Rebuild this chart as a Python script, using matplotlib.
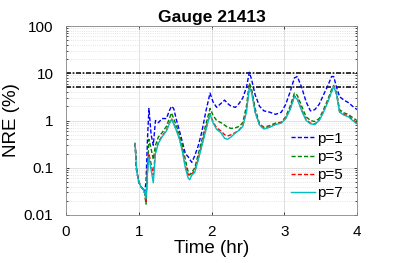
import matplotlib
matplotlib.use("Agg")
import matplotlib.pyplot as plt
from matplotlib.ticker import LogLocator, FixedLocator, NullFormatter

# time (hr), shared by all series
t = [0.95, 0.97, 1.00, 1.03, 1.06, 1.08, 1.10, 1.12, 1.14, 1.17, 1.20, 1.23, 1.27, 1.32,
     1.38, 1.42, 1.45, 1.48, 1.52, 1.56, 1.60, 1.64, 1.68, 1.70, 1.73, 1.77, 1.82, 1.87,
     1.92, 1.98, 2.02, 2.07, 2.13, 2.18, 2.22, 2.27, 2.33, 2.38, 2.43, 2.48, 2.52, 2.55,
     2.60, 2.66, 2.72, 2.80, 2.88, 2.96, 3.02, 3.08, 3.14, 3.18, 3.24, 3.30, 3.36, 3.42,
     3.48, 3.54, 3.60, 3.65, 3.68, 3.72, 3.76, 3.82, 3.88, 3.94, 4.00]

p1 = [0.33, 0.09, 0.05, 0.04, 0.035, 0.03, 0.05, 0.4, 1.8, 0.5, 0.3, 1.0, 0.9, 1.1,
      1.1, 1.6, 2.0, 1.8, 1.0, 0.6, 0.35, 0.2, 0.17, 0.15, 0.13, 0.18, 0.3, 0.6,
      1.5, 3.8, 2.5, 1.9, 2.3, 2.7, 2.3, 2.0, 1.9, 2.3, 3.0, 5.0, 10.5, 7.5,
      3.5, 2.0, 1.6, 1.5, 1.35, 1.5, 2.2, 4.0, 8.0, 8.5, 5.0, 2.5, 1.6, 1.7,
      2.2, 3.5, 5.5, 8.5, 8.5, 5.0, 3.2, 2.7, 2.4, 2.0, 1.7]
p3 = [0.33, 0.09, 0.05, 0.04, 0.035, 0.03, 0.017, 0.1, 0.4, 0.25, 0.15, 0.3, 0.45, 0.55,
      0.75, 1.1, 1.45, 1.1, 0.75, 0.5, 0.3, 0.15, 0.08, 0.07, 0.08, 0.1, 0.2, 0.4,
      0.8, 1.8, 1.3, 1.0, 0.9, 0.8, 0.72, 0.68, 0.7, 0.75, 0.9, 2.0, 6.2, 4.8,
      1.8, 0.85, 0.72, 0.78, 0.88, 0.92, 1.2, 2.0, 3.8, 3.4, 2.0, 1.2, 1.0, 0.95,
      1.1, 1.7, 2.8, 4.5, 5.5, 3.8, 1.7, 1.45, 1.35, 1.15, 1.0]
p5 = [0.33, 0.09, 0.05, 0.04, 0.035, 0.03, 0.018, 0.09, 0.2, 0.12, 0.07, 0.22, 0.35, 0.47,
      0.62, 0.88, 1.1, 0.88, 0.62, 0.42, 0.24, 0.11, 0.07, 0.075, 0.075, 0.085, 0.16, 0.32,
      0.65, 1.4, 0.95, 0.7, 0.6, 0.5, 0.47, 0.5, 0.56, 0.63, 0.78, 1.6, 5.2, 4.1,
      1.5, 0.82, 0.68, 0.73, 0.84, 0.9, 1.12, 1.75, 3.3, 2.9, 1.65, 1.05, 0.88, 0.84,
      1.02, 1.55, 2.6, 4.1, 5.4, 3.6, 1.55, 1.35, 1.25, 1.05, 0.88]
p7 = [0.33, 0.09, 0.05, 0.04, 0.035, 0.03, 0.022, 0.08, 0.17, 0.09, 0.048, 0.2, 0.33, 0.45,
      0.6, 0.85, 1.05, 0.85, 0.6, 0.4, 0.22, 0.1, 0.06, 0.056, 0.07, 0.08, 0.15, 0.3,
      0.6, 1.35, 0.9, 0.65, 0.55, 0.42, 0.4, 0.45, 0.55, 0.62, 0.75, 1.5, 5.0, 4.0,
      1.5, 0.8, 0.66, 0.72, 0.82, 0.88, 1.1, 1.7, 3.2, 2.8, 1.6, 1.0, 0.85, 0.82,
      1.0, 1.5, 2.5, 4.0, 5.3, 3.5, 1.5, 1.3, 1.2, 1.0, 0.85]

thresholds = [10, 5]
x_ticks = [0, 1, 2, 3, 4]
y_ticks = [0.01, 0.1, 1, 10, 100]
y_labels = ["0.01", "0.1", "1", "10", "100"]

plt.rcParams["font.family"] = ["Liberation Sans", "DejaVu Sans"]

fig = plt.figure(figsize=(3.95, 2.63), dpi=100)
ax = fig.add_axes([66 / 395, 1 - 215 / 263, (357 - 66) / 395, (215 - 26) / 263])

for y in thresholds:
    ax.axhline(y, color="#111111", ls=(0, (3, 1, 1, 1)), lw=1.2, zorder=2)

ax.plot(t, p1, color="#0000ff", ls=(0, (3, 1.5)), lw=1.0, label="p=1", zorder=3)
ax.plot(t, p3, color="#008000", ls=(0, (3, 1.5)), lw=1.0, label="p=3", zorder=4)
ax.plot(t, p5, color="#ff0000", ls=(0, (3, 1.5)), lw=1.0, label="p=5", zorder=5)
ax.plot(t, p7, color="#00bfbf", ls="-", lw=1.0, label="p=7", zorder=6)

ax.set_yscale("log")
ax.set_xlim(0, 4)
ax.set_ylim(0.01, 100)
ax.xaxis.set_major_locator(FixedLocator(x_ticks))
ax.yaxis.set_major_locator(FixedLocator(y_ticks))
ax.set_yticklabels(y_labels)
ax.yaxis.set_minor_locator(LogLocator(base=10, subs=range(2, 10)))
ax.yaxis.set_minor_formatter(NullFormatter())

ax.grid(True, which="major", color="#dcdcdc", lw=0.6, zorder=0)
ax.grid(True, which="minor", axis="y", color="#dcdcdc", ls=":", lw=0.6, zorder=0)
ax.tick_params(which="both", direction="in", top=True, right=True, labelsize=11,
               length=2.5, width=0.5)
ax.tick_params(axis="x", pad=7)
ax.tick_params(axis="y", pad=9)
ax.tick_params(which="minor", length=1.5)
for s in ax.spines.values():
    s.set_linewidth(0.6)
    s.set_color("#888888")

ax.set_xlabel("Time (hr)", fontsize=13.5, labelpad=1)
ax.set_ylabel("NRE (%)", fontsize=13.5, labelpad=3)
ax.set_title("Gauge 21413", fontsize=12.5, fontweight="bold", pad=3)

ax.legend(loc="lower right", frameon=False, fontsize=11, handlelength=1.6,
          handletextpad=0.1, labelspacing=0.28, borderaxespad=0.55)

fig.savefig("out.png", dpi=100)
